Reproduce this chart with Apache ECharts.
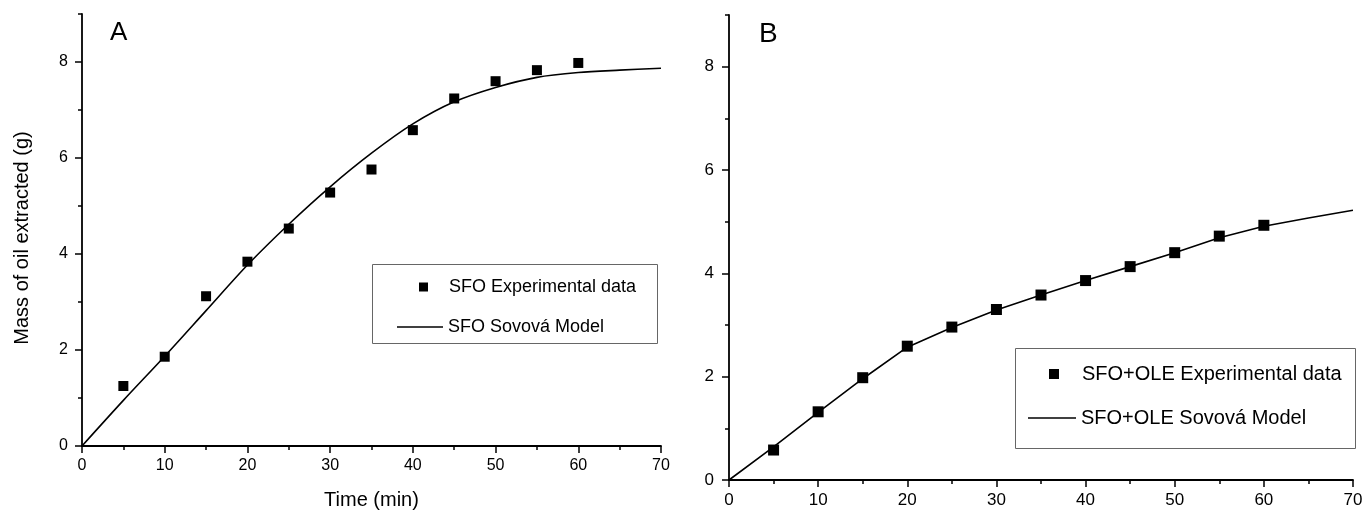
<!DOCTYPE html>
<html>
<head>
<meta charset="utf-8">
<script src="https://cdn.jsdelivr.net/npm/echarts@6/dist/echarts.min.js"></script>
<style>
  html, body { margin: 0; padding: 0; background: #fff; }
  #main { width: 1363px; height: 510px; }
</style>
</head>
<body>
<div id="main"></div>
<script>
// sampling times of the experiments (min)
var expTime = [5, 10, 15, 20, 25, 30, 35, 40, 45, 50, 55, 60];
var modelTime = [0, 5, 10, 15, 20, 25, 30, 35, 40, 45, 50, 55, 60, 65, 70];

// panel A
var sfoExp = [1.25, 1.86, 3.12, 3.84, 4.53, 5.28, 5.76, 6.58, 7.24, 7.60, 7.83, 7.98];
var sfoModel = [0, 0.95, 1.87, 2.82, 3.77, 4.62, 5.40, 6.10, 6.71, 7.17, 7.47, 7.68, 7.78, 7.83, 7.87];

// panel B
var oleExp = [0.58, 1.32, 1.98, 2.59, 2.96, 3.30, 3.58, 3.86, 4.13, 4.40, 4.72, 4.93];
var oleModel = [0, 0.64, 1.31, 1.96, 2.57, 2.95, 3.29, 3.58, 3.86, 4.13, 4.40, 4.69, 4.91, 5.07, 5.22];

// tick labels
var yMajor = [0, 2, 4, 6, 8];
var yMinor = [1, 3, 5, 7, 9];

function pairs(xs, ys) {
  return xs.map(function (x, i) { return [x, ys[i]]; });
}

var font = "'Liberation Sans', Arial, sans-serif";
var black = '#000';

function xAx(grid, size, margin, name) {
  return {
    type: 'value', gridIndex: grid, min: 0, max: 70, interval: 10,
    name: name, nameLocation: 'middle', nameGap: 44,
    nameTextStyle: { fontFamily: font, fontSize: 20, color: black },
    axisLine: { onZero: false, lineStyle: { color: black, width: 1.8 } },
    axisTick: { inside: false, length: 7, lineStyle: { color: black, width: 1.5 } },
    minorTick: { show: true, splitNumber: 2, length: 4, lineStyle: { color: black, width: 1.5 } },
    axisLabel: { fontFamily: font, fontSize: size, color: black, margin: margin },
    splitLine: { show: false }
  };
}

function yAx(grid, size, margin, name) {
  return {
    type: 'value', gridIndex: grid, min: 0, max: 9,
    name: name, nameLocation: 'middle', nameGap: 50,
    nameTextStyle: { fontFamily: font, fontSize: 20, color: black, padding: [0, 16, 0, 0] },
    axisLine: { show: true, onZero: false, lineStyle: { color: black, width: 1.8 } },
    axisTick: { show: true, inside: false, length: 7, customValues: yMajor, lineStyle: { color: black, width: 1.5 } },
    axisLabel: { fontFamily: font, fontSize: size, color: black, margin: margin, customValues: yMajor },
    splitLine: { show: false }
  };
}

function yMinorAx(grid) {
  return {
    type: 'value', gridIndex: grid, min: 0, max: 9, position: 'left',
    axisLine: { show: false },
    axisTick: { show: true, inside: false, length: 4, customValues: yMinor, lineStyle: { color: black, width: 1.5 } },
    axisLabel: { show: false },
    splitLine: { show: false }
  };
}

function legendItem(name, left, top, w, h, size, pad) {
  return {
    data: [{ name: name, icon: 'rect' }],
    left: left, top: top, padding: 0,
    itemWidth: w, itemHeight: h, selectedMode: false,
    itemStyle: { color: black, opacity: 1 },
    textStyle: { fontFamily: font, fontSize: size, color: black, lineHeight: size + 2, padding: [0, 0, 0, pad] }
  };
}

var chart = echarts.init(document.getElementById('main'));
chart.setOption({
  animation: false,
  backgroundColor: '#fff',
  title: [
    { text: 'A', left: 110, top: 20, padding: 0, textStyle: { fontFamily: font, fontSize: 26, fontWeight: 'normal', color: black } },
    { text: 'B', left: 759, top: 20, padding: 0, textStyle: { fontFamily: font, fontSize: 28, fontWeight: 'normal', color: black } }
  ],
  grid: [
    { left: 82, top: 14, width: 579, height: 432, outerBoundsMode: 'none', containLabel: false },
    { left: 729, top: 15, width: 624, height: 465, outerBoundsMode: 'none', containLabel: false }
  ],
  xAxis: [xAx(0, 16, 12, 'Time (min)'), xAx(1, 17, 12, '')],
  yAxis: [yAx(0, 16, 14, 'Mass of oil extracted (g)'), yMinorAx(0), yAx(1, 17, 15, ''), yMinorAx(1)],
  legend: [
    legendItem('SFO Experimental data', 419, 277, 9, 9, 18, 16),
    legendItem('SFO Sovová Model', 397, 317, 46, 1.6, 18, 0),
    legendItem('SFO+OLE Experimental data', 1049, 363, 10, 10, 20, 18),
    legendItem('SFO+OLE Sovová Model', 1028, 407, 48, 1.6, 20, 0)
  ],
  graphic: [
    { type: 'rect', shape: { x: 372.5, y: 264.5, width: 285, height: 79 }, style: { fill: 'none', stroke: '#666', lineWidth: 1 } },
    { type: 'rect', shape: { x: 1015.5, y: 348.5, width: 340, height: 100 }, style: { fill: 'none', stroke: '#666', lineWidth: 1 } }
  ],
  series: [
    {
      name: 'SFO Sovová Model', type: 'line', xAxisIndex: 0, yAxisIndex: 0,
      data: pairs(modelTime, sfoModel), symbol: 'none', smooth: 0.3,
      lineStyle: { color: black, width: 1.6 }, itemStyle: { color: black }
    },
    {
      name: 'SFO Experimental data', type: 'scatter', xAxisIndex: 0, yAxisIndex: 0,
      data: pairs(expTime, sfoExp), symbol: 'rect', symbolSize: 10,
      itemStyle: { color: black, opacity: 1 }
    },
    {
      name: 'SFO+OLE Sovová Model', type: 'line', xAxisIndex: 1, yAxisIndex: 2,
      data: pairs(modelTime, oleModel), symbol: 'none',
      lineStyle: { color: black, width: 1.6 }, itemStyle: { color: black }
    },
    {
      name: 'SFO+OLE Experimental data', type: 'scatter', xAxisIndex: 1, yAxisIndex: 2,
      data: pairs(expTime, oleExp), symbol: 'rect', symbolSize: 11,
      itemStyle: { color: black, opacity: 1 }
    }
  ]
});
</script>
</body>
</html>
